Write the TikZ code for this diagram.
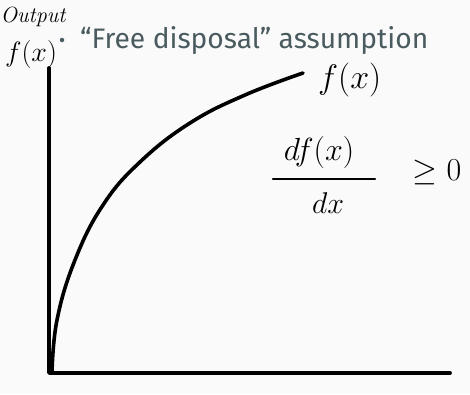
\RequirePackage{fix-cm}
\documentclass[tikz,border=0pt]{standalone}
\usepackage{fontspec}
\newfontfamily\itemfont{Fira Sans}
\definecolor{bgc}{HTML}{FAFAFA}
\definecolor{txt}{HTML}{4A5B5F}
\begin{document}
\begin{tikzpicture}[x=1pt,y=-1pt,
  ink/.style={line width=3.8pt,line cap=round,line join=round,black},
  hand/.style={inner sep=0pt,font=\fontsize{#1}{#1}\selectfont},
  hand/.default=28]
\fill[bgc] (0,0) rectangle (470,394);
\useasboundingbox (0,0) rectangle (470,394);
% bullet and text
\node[circle,fill=txt,inner sep=0pt,minimum size=4.5pt] (bul) at (62,40) {};
\node[anchor=base west,inner sep=0pt,text=txt,font=\itemfont\fontsize{28.2}{28.2}\selectfont] (item) at (80,48.5) {“Free disposal” assumption};
% handwritten labels
\node[hand=22] (outlab) at (33,17) {\itshape Output};
\node[hand=28] (fxl) at (31,54) {$f(x)$};
% axes
\coordinate (top) at (49,68);
\coordinate (org) at (49,373);
\coordinate (right) at (450,373);
\draw[ink] (top) -- (org) -- (right);
% curve
\draw[ink,line width=3.6pt] plot[smooth,tension=0.7] coordinates {(52,373) (57,320) (75,260) (103,205) (140,162) (190,123) (245,95) (303,73)};
\node[hand=34,anchor=west] (flab) at (318,80) {$f(x)$};
% derivative
\node[hand=32] (num) at (319,152) {$d f(x)$};
\coordinate (barl) at (273,179);
\coordinate (barr) at (375,179);
\draw[line width=2.2pt,line cap=round] (barl) -- (barr);
\node[hand=30] (den) at (328,203) {$dx$};
\node[hand=32] (geq) at (437,172) {$\geq 0$};
\end{tikzpicture}
\end{document}
